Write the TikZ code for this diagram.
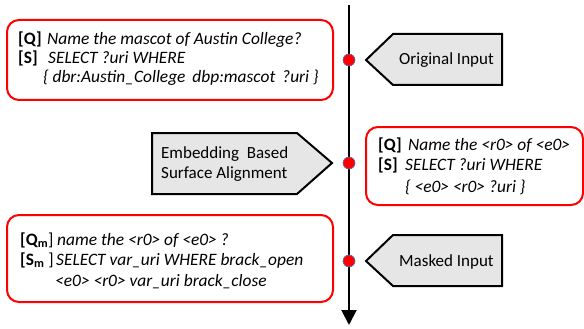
\documentclass[tikz,border=0pt]{standalone}
\usepackage{fontspec}
\setmainfont{Carlito}
\usetikzlibrary{arrows.meta}
\definecolor{boxred}{HTML}{FF0000}
\definecolor{tagfill}{HTML}{E6E6E6}
\definecolor{dotblue}{HTML}{4472C4}
\tikzset{
  qbox/.style={draw=boxred, line width=2pt, rounded corners=12pt, inner sep=0pt},
  txt/.style={anchor=base west, inner sep=0pt, font=\fontsize{17.4}{20}\selectfont},
  lbl/.style={anchor=base west, inner sep=0pt, font=\fontsize{17}{20}\selectfont},
  tag/.style={draw=black, fill=tagfill, line width=2pt, line join=miter},
  spine/.style={draw=black, line width=2pt, -{Triangle[width=15pt,length=15pt]}},
  dot/.style={circle, fill=red, draw=dotblue, line width=0.6pt, minimum size=12pt, inner sep=0pt}
}
\begin{document}
\begin{tikzpicture}[x=1pt,y=-1pt]
\useasboundingbox (0,0) rectangle (584,329);
% spine
\coordinate (top) at (349,5);
\coordinate (bot) at (349,325);
\draw[spine] (top) -- (bot);
\node[dot] (d1) at (349,60) {};
\node[dot] (d2) at (349,163) {};
\node[dot] (d3) at (349,261) {};
% boxes
\node[qbox, minimum width=326pt, minimum height=80pt] (b1) at (170,60) {};
\node[qbox, minimum width=217pt, minimum height=78pt] (b2) at (474.5,166) {};
\node[qbox, minimum width=326pt, minimum height=87pt] (b3) at (170,258.5) {};
% box 1 text
\node[txt] (b1q) at (18,45) {\textbf{[Q]}};
\node[txt] (b1qt) at (47,45) {\textit{Name the mascot of Austin College?}};
\node[txt] (b1s) at (18,64) {\textbf{[S]}};
\node[txt] (b1st) at (48,64) {\textit{SELECT ?uri WHERE}};
\node[txt] (b1st2) at (43,83) {\textit{\{ dbr:Austin\_College\hspace{3pt} dbp:mascot\hspace{3pt} ?uri \}}};
% box 2 text
\node[txt] (b2q) at (378,150) {\textbf{[Q]}};
\node[txt] (b2qt) at (408,150) {\textit{Name the <r0> of <e0>}};
\node[txt] (b2s) at (378,170) {\textbf{[S]}};
\node[txt] (b2st) at (405,170) {\textit{SELECT ?uri WHERE}};
\node[txt] (b2st2) at (405,192) {\textit{\{ <e0> <r0> ?uri \}}};
% box 3 text
\node[txt] (b3q) at (20,245) {\textbf{[Q\textsubscript{m}}]};
\node[txt] (b3qt) at (57,245) {\textit{name the <r0> of <e0> ?}};
\node[txt] (b3s) at (20,265) {\textbf{[S\textsubscript{m}} ]};
\node[txt] (b3st) at (56,265) {\textit{SELECT var\_uri WHERE brack\_open}};
\node[txt] (b3st2) at (55,286) {\textit{<e0> <r0> var\_uri brack\_close}};
% tags
\draw[tag] (366,60) -- (393,34) -- (502,34) -- (502,85) -- (393,85) -- cycle;
\node[lbl] (orig) at (399,65) {Original Input};
\draw[tag] (152,133) -- (297,133) -- (332,163) -- (297,194) -- (152,194) -- cycle;
\node[lbl] (emb1) at (161,158) {Embedding\ \ Based};
\node[lbl] (emb2) at (161,178) {Surface Alignment};
\draw[tag] (366,261) -- (393,235) -- (502,235) -- (502,286) -- (393,286) -- cycle;
\node[lbl] (mask) at (399,266) {Masked Input};
\end{tikzpicture}
\end{document}
